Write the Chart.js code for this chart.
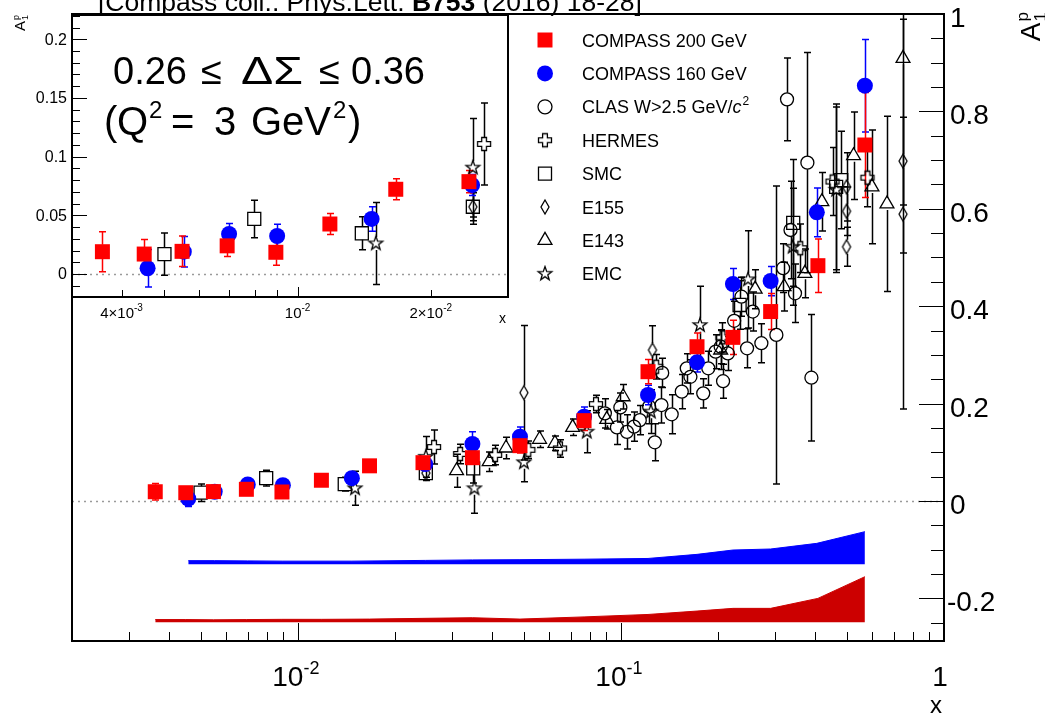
<!DOCTYPE html>
<html>
<head>
<meta charset="utf-8">
<script src="https://cdn.jsdelivr.net/npm/chart.js@4.4.1/dist/chart.umd.min.js"></script>
<style>
  body { margin: 0; background: #fff; }
  #wrap { position: relative; width: 1045px; height: 715px; overflow: hidden; }
  #wrap canvas { position: absolute; left: 0; top: 0; }
</style>
</head>
<body>
<div id="wrap">
  <canvas id="main" width="1045" height="715"></canvas>
  <canvas id="inset" width="520" height="330"></canvas>
</div>
<script>
// ---- data (x, A1p, stat. error) ----
const compass200X = [0.00362, 0.0045, 0.00548, 0.00693, 0.00893, 0.01183, 0.01667, 0.0244, 0.0347, 0.0487, 0.0769, 0.1213, 0.172, 0.2222, 0.2907, 0.4071, 0.569];
const compass200Y = [0.019, 0.017, 0.0193, 0.024, 0.0185, 0.0426, 0.0722, 0.0787, 0.0889, 0.1136, 0.165, 0.2655, 0.3168, 0.336, 0.389, 0.4832, 0.731];
const compass200Err = [0.017, 0.0125, 0.013, 0.009, 0.011, 0.009, 0.009, 0.0095, 0.012, 0.015, 0.02, 0.025, 0.028, 0.035, 0.037, 0.055, 0.108];
const compass200SysTop = [-0.2435, -0.2435, -0.244, -0.2435, -0.243, -0.243, -0.2425, -0.241, -0.2397, -0.2425, -0.238, -0.233, -0.226, -0.2205, -0.2205, -0.2, -0.1555];
const compass200SysBase = -0.249;

const compass160X = [0.00458, 0.00553, 0.007, 0.00899, 0.0147, 0.0248, 0.0347, 0.0487, 0.0769, 0.1213, 0.172, 0.2222, 0.2907, 0.404, 0.569];
const compass160Y = [0.0049, 0.019, 0.0341, 0.0324, 0.0469, 0.0758, 0.117, 0.132, 0.173, 0.2177, 0.2848, 0.4456, 0.4517, 0.5928, 0.8528];
const compass160Err = [0.016, 0.013, 0.009, 0.01, 0.0105, 0.009, 0.025, 0.02, 0.02, 0.02, 0.02, 0.032, 0.03, 0.05, 0.095];
const compass160SysTop = [-0.1225, -0.1225, -0.123, -0.1235, -0.1235, -0.122, -0.121, -0.1205, -0.1195, -0.118, -0.1096, -0.1007, -0.0986, -0.087, -0.063];
const compass160SysBase = -0.13;

const clasX = [0.0892, 0.0972, 0.0996, 0.1044, 0.1098, 0.1144, 0.1223, 0.1273, 0.1335, 0.1342, 0.1436, 0.1543, 0.1599, 0.1641, 0.1798, 0.1864, 0.1964, 0.2036, 0.2071, 0.2143, 0.2241, 0.2361, 0.2457, 0.2559, 0.2721, 0.3028, 0.3177, 0.3267, 0.3349, 0.3458, 0.3777, 0.3887];
const clasY = [0.18, 0.151, 0.192, 0.142, 0.1526, 0.166, 0.1937, 0.1205, 0.197, 0.263, 0.178, 0.2245, 0.2725, 0.255, 0.221, 0.2725, 0.3066, 0.3168, 0.246, 0.303, 0.37, 0.4195, 0.3135, 0.389, 0.324, 0.341, 0.478, 0.8248, 0.5565, 0.4265, 0.6947, 0.2532];
const clasErr = [0.03, 0.035, 0.03, 0.035, 0.03, 0.03, 0.035, 0.038, 0.037, 0.03, 0.04, 0.035, 0.03, 0.035, 0.03, 0.035, 0.035, 0.035, 0.035, 0.035, 0.04, 0.04, 0.04, 0.04, 0.04, 0.306, 0.05, 0.085, 0.1, 0.06, 0.226, 0.13];

const hermesX = [0.0264, 0.0318, 0.0408, 0.0517, 0.0648, 0.0837, 0.1286, 0.2062, 0.3591, 0.4519, 0.5797];
const hermesY = [0.1108, 0.0965, 0.0945, 0.105, 0.108, 0.199, 0.2757, 0.336, 0.519, 0.656, 0.664];
const hermesErr = [0.035, 0.02, 0.02, 0.018, 0.018, 0.018, 0.025, 0.03, 0.05, 0.07, 0.06];

const smcX = [0.005, 0.00798, 0.01397, 0.0249, 0.0349, 0.233, 0.3414, 0.4636, 0.4808];
const smcY = [0.017, 0.0469, 0.0347, 0.0573, 0.067, 0.4025, 0.571, 0.645, 0.659];
const smcErr = [0.018, 0.016, 0.014, 0.015, 0.03, 0.05, 0.13, 0.17, 0.1];

const e155X = [0.0249, 0.0501, 0.1252, 0.4992, 0.4992, 0.4992, 0.7467, 0.7467];
const e155Y = [0.0573, 0.2224, 0.31, 0.645, 0.595, 0.522, 0.698, 0.589];
const e155Err = [0.012, 0.138, 0.05, 0.07, 0.05, 0.04, 0.09, 0.4];

const e143X = [0.031, 0.0391, 0.0441, 0.056, 0.0625, 0.0709, 0.0904, 0.1016, 0.2036, 0.2603, 0.32, 0.371, 0.4188, 0.5249, 0.5984, 0.666, 0.7467];
const e143Y = [0.0622, 0.0807, 0.1088, 0.1267, 0.1185, 0.1513, 0.1677, 0.214, 0.31, 0.435, 0.44, 0.4675, 0.6146, 0.709, 0.645, 0.61, 0.909];
const e143Err = [0.034, 0.02, 0.022, 0.017, 0.015, 0.017, 0.02, 0.025, 0.04, 0.04, 0.05, 0.05, 0.06, 0.09, 0.117, 0.18, 0.4];

const emcX = [0.01503, 0.0249, 0.0352, 0.0501, 0.0784, 0.1238, 0.1757, 0.2474, 0.3401, 0.4636];
const emcY = [0.026, 0.0906, 0.026, 0.0794, 0.1423, 0.1834, 0.361, 0.455, 0.522, 0.639];
const emcErr = [0.035, 0.042, 0.051, 0.04, 0.043, 0.045, 0.08, 0.1, 0.12, 0.17];

const mainYTicks = [-0.2, 0, 0.2, 0.4, 0.6, 0.8, 1];
const mainXTicks = [0.01, 0.1, 1];
const insetYTicks = [0, 0.05, 0.1, 0.15, 0.2];
const insetXTicks = [0.004, 0.01, 0.02];

// ---- ranges ----
const X_MIN = 0.002, X_MAX = 1, Y_MIN = -0.2875, Y_MAX = 1.0;
const IX_MIN = 0.00309, IX_MAX = 0.0299, IY_MIN = -0.0196, IY_MAX = 0.2207;

const FONT = '"Liberation Sans", Arial, Helvetica, sans-serif';

// ---- custom marker shapes ----
function makeMarker(w, h, draw) {
  const c = document.createElement('canvas');
  c.width = w;
  c.height = h;
  const g = c.getContext('2d');
  g.strokeStyle = '#000';
  g.lineWidth = 1.3;
  g.beginPath();
  draw(g, w / 2, h / 2);
  g.closePath();
  g.stroke();
  return c;
}

const starImg = makeMarker(18, 18, (g, cx, cy) => {
  for (let i = 0; i < 10; i++) {
    const r = i % 2 ? 2.9 : 7.2;
    const a = -Math.PI / 2 + (i * Math.PI) / 5;
    g.lineTo(cx + r * Math.cos(a), cy + r * Math.sin(a));
  }
});

const crossImg = makeMarker(18, 18, (g, cx, cy) => {
  const a = 2.4, b = 6.5;
  const pts = [[-a, -b], [a, -b], [a, -a], [b, -a], [b, a], [a, a], [a, b], [-a, b], [-a, a], [-b, a], [-b, -a], [-a, -a]];
  pts.forEach(([px, py]) => g.lineTo(cx + px, cy + py));
});

const diamondImg = makeMarker(12, 18, (g, cx, cy) => {
  g.moveTo(cx, cy - 7);
  g.lineTo(cx + 4, cy);
  g.lineTo(cx, cy + 7);
  g.lineTo(cx - 4, cy);
});

const NONE = 'rgba(0,0,0,0)';
const styles = {
  c200: { pointStyle: 'rect', pointRadius: 10.6, backgroundColor: '#ff0000', borderColor: '#ff0000', borderWidth: 0, errColor: '#ff0000', errGap: 7 },
  c160: { pointStyle: 'circle', pointRadius: 8, backgroundColor: '#0000ff', borderColor: '#0000ff', borderWidth: 0, errColor: '#0000ff', errGap: 7 },
  clas: { pointStyle: 'circle', pointRadius: 6.5, backgroundColor: NONE, borderColor: '#000', borderWidth: 1.3, errColor: '#000', errGap: 6.5 },
  hermes: { pointStyle: crossImg, pointRadius: 7, backgroundColor: NONE, borderColor: '#000', borderWidth: 1.3, errColor: '#000', errGap: 6.5 },
  smc: { pointStyle: 'rect', pointRadius: 9.2, backgroundColor: NONE, borderColor: '#000', borderWidth: 1.3, errColor: '#000', errGap: 6.5 },
  e155: { pointStyle: diamondImg, pointRadius: 7, backgroundColor: NONE, borderColor: '#000', borderWidth: 1.3, errColor: '#000', errGap: 7 },
  e143: { pointStyle: 'triangle', pointRadius: 8, backgroundColor: NONE, borderColor: '#000', borderWidth: 1.3, errColor: '#000', errGap: 6 },
  emc: { pointStyle: starImg, pointRadius: 7, backgroundColor: NONE, borderColor: '#000', borderWidth: 1.3, errColor: '#000', errGap: 6.5 },
};

function series(label, xs, ys, es, style) {
  return {
    label,
    data: xs.map((x, i) => ({ x, y: ys[i], e: es[i] })),
    pointHoverRadius: style.pointRadius,
    pointBorderWidth: style.borderWidth,
    ...style,
  };
}

function pointSets() {
  // first entry is drawn on top
  return [
    series('COMPASS 200 GeV', compass200X, compass200Y, compass200Err, styles.c200),
    series('COMPASS 160 GeV', compass160X, compass160Y, compass160Err, styles.c160),
    series('EMC', emcX, emcY, emcErr, styles.emc),
    series('E143', e143X, e143Y, e143Err, styles.e143),
    series('E155', e155X, e155Y, e155Err, styles.e155),
    series('SMC', smcX, smcY, smcErr, styles.smc),
    series('HERMES', hermesX, hermesY, hermesErr, styles.hermes),
    series('CLAS', clasX, clasY, clasErr, styles.clas),
  ];
}

function band(xs, tops, base, color) {
  return {
    type: 'line',
    showLine: true,
    data: xs.map((x, i) => ({ x, y: tops[i] })),
    fill: { value: base },
    backgroundColor: color,
    borderColor: color,
    borderWidth: 1,
    pointRadius: 0,
    tension: 0,
  };
}

// ---- plugins ----
const zeroLine = {
  id: 'zeroLine',
  beforeDatasetsDraw(chart) {
    const { ctx, chartArea: a, scales: { y } } = chart;
    const py = Math.round(y.getPixelForValue(0)) + 0.5;
    ctx.save();
    ctx.strokeStyle = '#9a9a9a';
    ctx.lineWidth = 1.5;
    ctx.setLineDash([2, 4]);
    ctx.beginPath();
    ctx.moveTo(a.left, py);
    ctx.lineTo(a.right, py);
    ctx.stroke();
    ctx.restore();
  },
};

const errorBars = {
  id: 'errorBars',
  beforeDatasetsDraw(chart) {
    const { ctx, chartArea: a, scales: { x, y } } = chart;
    ctx.save();
    ctx.beginPath();
    ctx.rect(a.left, a.top, a.right - a.left, a.bottom - a.top);
    ctx.clip();
    ctx.lineWidth = 1.5;
    [...chart.data.datasets].reverse().forEach((ds) => {
      if (!ds.errColor) return;
      ctx.strokeStyle = ds.errColor;
      ds.data.forEach((p) => {
        const px = Math.round(x.getPixelForValue(p.x)) + 0.5;
        const py = y.getPixelForValue(p.y);
        const top = y.getPixelForValue(p.y + p.e);
        const bot = y.getPixelForValue(p.y - p.e);
        const g = ds.errGap;
        ctx.beginPath();
        if (py - g > top) {
          ctx.moveTo(px, py - g);
          ctx.lineTo(px, top);
          ctx.moveTo(px - 3.5, top);
          ctx.lineTo(px + 3.5, top);
        }
        if (py + g < bot) {
          ctx.moveTo(px, py + g);
          ctx.lineTo(px, bot);
          ctx.moveTo(px - 3.5, bot);
          ctx.lineTo(px + 3.5, bot);
        }
        ctx.stroke();
      });
    });
    ctx.restore();
  },
};

// text with a raised exponent, centred on cx
function sciLabel(ctx, cx, base, mant, exp, size, expSize, raise) {
  ctx.font = `${size}px ${FONT}`;
  const w1 = ctx.measureText(mant).width;
  ctx.font = `${expSize}px ${FONT}`;
  const w2 = exp ? ctx.measureText(exp).width : 0;
  const x0 = cx - (w1 + w2) / 2;
  ctx.textAlign = 'left';
  ctx.font = `${size}px ${FONT}`;
  ctx.fillText(mant, x0, base);
  if (exp) {
    ctx.font = `${expSize}px ${FONT}`;
    ctx.fillText(exp, x0 + w1, base - raise);
  }
}

// rotated A_1^p axis title, ending at (bx, endY)
function a1pTitle(ctx, bx, endY, size) {
  ctx.save();
  ctx.translate(bx, endY);
  ctx.rotate(-Math.PI / 2);
  ctx.textBaseline = 'alphabetic';
  ctx.textAlign = 'left';
  ctx.font = `${size}px ${FONT}`;
  const wA = ctx.measureText('A').width;
  const small = Math.round(size * 0.62);
  ctx.font = `${small}px ${FONT}`;
  const wS = ctx.measureText('p').width;
  const x0 = -(wA + wS + 1);
  ctx.font = `${size}px ${FONT}`;
  ctx.fillText('A', x0, 0);
  ctx.font = `${small}px ${FONT}`;
  ctx.fillText('p', x0 + wA + 1, -size * 0.42);
  ctx.fillText('1', x0 + wA + 1, size * 0.2);
  ctx.restore();
}

const mainAxes = {
  id: 'mainAxes',
  afterDraw(chart) {
    const { ctx, chartArea: a, scales: { x, y } } = chart;
    ctx.save();
    ctx.fillStyle = '#000';
    ctx.strokeStyle = '#000';

    // bottom log ticks
    ctx.lineWidth = 1;
    ctx.beginPath();
    for (let d = -3; d <= 0; d++) {
      for (let k = 1; k <= 9; k++) {
        const v = k * Math.pow(10, d);
        if (v < X_MIN || v > X_MAX * 1.0001) continue;
        const px = Math.round(x.getPixelForValue(v)) + 0.5;
        const len = k === 1 ? 18 : 9;
        ctx.moveTo(px, a.bottom);
        ctx.lineTo(px, a.bottom - len);
      }
    }
    // right y ticks
    for (let i = -5; i <= 20; i++) {
      const v = i * 0.05;
      if (v < Y_MIN || v > Y_MAX + 1e-9) continue;
      const py = Math.round(y.getPixelForValue(v)) + 0.5;
      const len = i % 4 === 0 ? 25 : 13;
      ctx.moveTo(a.right, py);
      ctx.lineTo(a.right - len, py);
    }
    ctx.stroke();

    // frame
    ctx.lineWidth = 2;
    ctx.strokeRect(a.left, a.top, a.right - a.left, a.bottom - a.top);

    // x labels
    ctx.textBaseline = 'alphabetic';
    mainXTicks.forEach((v) => {
      const px = x.getPixelForValue(v);
      const e = Math.round(Math.log10(v));
      if (e === 0) sciLabel(ctx, px - 4, 686, '1', '', 28, 18, 0);
      else sciLabel(ctx, px - 2, 686, '10', String(e), 28, 18, 12);
    });
    ctx.font = `24px ${FONT}`;
    ctx.textAlign = 'right';
    ctx.fillText('x', a.right - 2, 713);

    // y labels on the right
    ctx.font = `28px ${FONT}`;
    ctx.textAlign = 'left';
    mainYTicks.forEach((v) => {
      const py = y.getPixelForValue(v);
      const txt = v === 0 || v === 1 ? String(v) : v.toFixed(1);
      ctx.fillText(txt, v < 0 ? 947 : 950, py + 13);
    });
    a1pTitle(ctx, 1040, 12, 28);

    // title (clipped at the top like the original)
    const parts = [
      ['[Compass coll.. Phys.Lett. ', ''],
      ['B753', 'bold '],
      [' (2016) 18-28]', ''],
    ];
    let size = 22;
    const widthAt = (s) => parts.reduce((w, [t, b]) => {
      ctx.font = `${b}${s}px ${FONT}`;
      return w + ctx.measureText(t).width;
    }, 0);
    size = (size * 544) / widthAt(size);
    let tx = 98;
    parts.forEach(([t, b]) => {
      ctx.font = `${b}${size}px ${FONT}`;
      ctx.fillText(t, tx, 11);
      tx += ctx.measureText(t).width;
    });

    // legend
    const ds = chart.data.datasets;
    const rows = [
      [ds[0], 'COMPASS 200 GeV'],
      [ds[1], 'COMPASS 160 GeV'],
      [ds[7], 'CLAS'],
      [ds[6], 'HERMES'],
      [ds[5], 'SMC'],
      [ds[4], 'E155'],
      [ds[3], 'E143'],
      [ds[2], 'EMC'],
    ];
    rows.forEach(([d, label], i) => {
      const ly = 40 + i * 33.4;
      ctx.save();
      ctx.fillStyle = d.backgroundColor;
      ctx.strokeStyle = d.borderColor;
      ctx.lineWidth = d.borderWidth;
      Chart.helpers.drawPoint(ctx, {
        pointStyle: d.pointStyle,
        radius: d === ds[7] ? 7 : d.pointRadius,
        rotation: 0,
        borderWidth: d.borderWidth,
      }, 545, ly);
      ctx.restore();
      ctx.fillStyle = '#000';
      ctx.font = `18px ${FONT}`;
      ctx.textAlign = 'left';
      const base = ly + 6.5;
      if (label === 'CLAS') {
        const t1 = 'CLAS W>2.5 GeV/';
        ctx.fillText(t1, 582, base);
        let cx = 582 + ctx.measureText(t1).width;
        ctx.font = `italic 18px ${FONT}`;
        ctx.fillText('c', cx, base);
        cx += ctx.measureText('c').width + 1;
        ctx.font = `12px ${FONT}`;
        ctx.fillText('2', cx, base - 8);
      } else {
        ctx.fillText(label, 582, base);
      }
    });
    ctx.restore();
  },
};

const insetAxes = {
  id: 'insetAxes',
  beforeDraw(chart) {
    const { ctx, chartArea: a } = chart;
    ctx.save();
    ctx.fillStyle = '#fff';
    ctx.fillRect(a.left, a.top, a.right - a.left, a.bottom - a.top);
    ctx.restore();
  },
  afterDraw(chart) {
    const { ctx, chartArea: a, scales: { x, y } } = chart;
    ctx.save();
    ctx.fillStyle = '#000';
    ctx.strokeStyle = '#000';
    ctx.lineWidth = 1;
    ctx.beginPath();
    for (let d = -3; d <= -1; d++) {
      for (let k = 1; k <= 9; k++) {
        const v = k * Math.pow(10, d);
        if (v < IX_MIN || v > IX_MAX) continue;
        const px = Math.round(x.getPixelForValue(v)) + 0.5;
        const len = k === 1 ? 10 : 7;
        ctx.moveTo(px, a.bottom);
        ctx.lineTo(px, a.bottom - len);
      }
    }
    for (let i = -1; i <= 22; i++) {
      const v = i * 0.01;
      if (v < IY_MIN || v > IY_MAX) continue;
      const py = Math.round(y.getPixelForValue(v)) + 0.5;
      const len = i % 5 === 0 ? 15 : 8;
      ctx.moveTo(a.left, py);
      ctx.lineTo(a.left + len, py);
    }
    ctx.stroke();
    ctx.lineWidth = 2;
    ctx.strokeRect(a.left, a.top, a.right - a.left, a.bottom - a.top);

    // y labels
    ctx.font = `16px ${FONT}`;
    ctx.textAlign = 'right';
    insetYTicks.forEach((v) => {
      const py = y.getPixelForValue(v);
      const txt = v === 0 ? '0' : String(v);
      ctx.fillText(txt, 67, py + 5.5);
    });
    // x labels
    insetXTicks.forEach((v) => {
      const px = x.getPixelForValue(v);
      const e = Math.floor(Math.log10(v) + 1e-9);
      const m = Math.round(v / Math.pow(10, e));
      sciLabel(ctx, px, 318, m === 1 ? '10' : `${m}\u00d710`, String(e), 15, 10, 7);
    });
    ctx.font = `14px ${FONT}`;
    ctx.textAlign = 'right';
    ctx.fillText('x', 506, 323);
    a1pTitle(ctx, 25, 15, 15);

    // annotation: 0.26 <= Delta Sigma <= 0.36
    ctx.textAlign = 'left';
    ctx.font = `38px ${FONT}`;
    [['0.26', 113], ['\u2264', 201], ['\u2264', 319], ['0.36', 351]].forEach(([t, tx]) => {
      ctx.fillText(t, tx, 84);
    });
    const gw = ctx.measureText('\u0394\u03a3').width;
    ctx.save();
    ctx.translate(241, 84);
    ctx.scale(62 / gw, 1);
    ctx.fillText('\u0394\u03a3', 0, 0);
    ctx.restore();
    // (Q^2 = 3 GeV^2)
    [['(', 104, 40, 0], ['Q', 117, 40, 0], ['2', 149, 24, 17], ['=', 171, 40, 0], ['3', 214, 40, 0],
     ['GeV', 251, 40, 0], ['2', 333, 24, 17], [')', 348, 40, 0]].forEach(([t, tx, s, r]) => {
      ctx.font = `${s}px ${FONT}`;
      ctx.fillText(t, tx, 135 - r);
    });
    ctx.restore();
  },
};

function baseOptions(xmin, xmax, ymin, ymax, padding) {
  return {
    responsive: false,
    animation: false,
    events: [],
    layout: { padding },
    plugins: { legend: { display: false }, tooltip: { enabled: false } },
    scales: {
      x: { type: 'logarithmic', min: xmin, max: xmax, display: false },
      y: { type: 'linear', min: ymin, max: ymax, display: false },
    },
  };
}

new Chart(document.getElementById('main'), {
  type: 'scatter',
  data: {
    datasets: [
      ...pointSets(),
      band(compass160X, compass160SysTop, compass160SysBase, '#0000ff'),
      band(compass200X, compass200SysTop, compass200SysBase, '#cc0000'),
    ],
  },
  options: baseOptions(X_MIN, X_MAX, Y_MIN, Y_MAX, { left: 72, right: 101, top: 14, bottom: 74 }),
  plugins: [zeroLine, errorBars, mainAxes],
});

new Chart(document.getElementById('inset'), {
  type: 'scatter',
  data: { datasets: pointSets() },
  options: baseOptions(IX_MIN, IX_MAX, IY_MIN, IY_MAX, { left: 72, right: 12, top: 15, bottom: 33 }),
  plugins: [insetAxes, zeroLine, errorBars],
});
</script>
</body>
</html>
